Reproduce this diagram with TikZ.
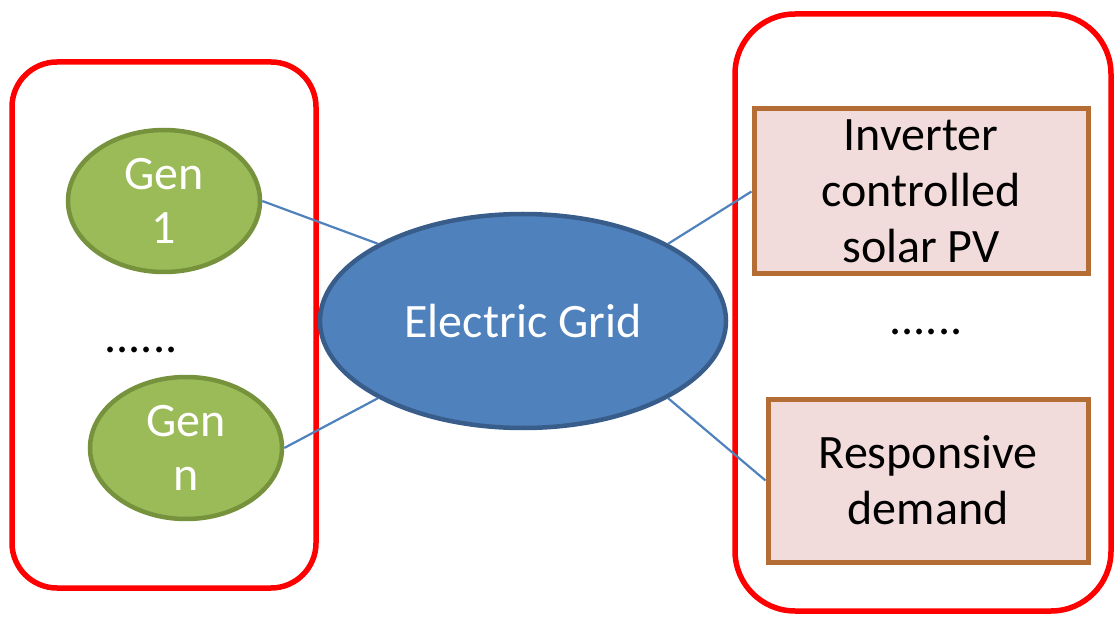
\documentclass[tikz,border=0pt]{standalone}
\usepackage{fontspec}
\setmainfont{Carlito}
\usetikzlibrary{shapes.geometric}
\definecolor{gridfill}{HTML}{4F81BD}
\definecolor{griddraw}{HTML}{385D8A}
\definecolor{genfill}{HTML}{9BBB59}
\definecolor{gendraw}{HTML}{76923C}
\definecolor{boxfill}{HTML}{F2DCDB}
\definecolor{boxdraw}{HTML}{B46D35}
\tikzset{
  group/.style={draw=red, line width=5.5pt, rounded corners=#1},
  gen/.style={ellipse, draw=gendraw, fill=genfill, line width=4.5pt, inner sep=0pt,
    minimum width=192pt, minimum height=142pt, text=white, align=center,
    font=\fontsize{48}{54}\selectfont},
  grid/.style={ellipse, draw=griddraw, fill=gridfill, line width=4.5pt, inner sep=0pt,
    minimum width=406pt, minimum height=214pt, text=white,
    font=\fontsize{48}{54}\selectfont},
  unit/.style={rectangle, draw=boxdraw, fill=boxfill, line width=5pt, inner sep=0pt,
    align=center, text=black, font=\fontsize{48}{56}\selectfont},
  dots/.style={font=\fontsize{48}{54}\selectfont},
  link/.style={draw=gridfill, line width=2.2pt}
}
\begin{document}
\begin{tikzpicture}[x=1pt,y=-1pt]
\useasboundingbox (0,0) rectangle (1116,617);
\draw[group=45pt] (12,62) rectangle (316,588);
\draw[group=60pt] (735,14) rectangle (1111,611);
\node[gen] (g1) at (164,201) {Gen\\1};
\node[gen] (gn) at (186,448) {Gen\\n};
\node[grid] (eg) at (523,321) {Electric Grid};
\node[unit, minimum width=334pt, minimum height=165pt] (pv) at (921,191.5) {Inverter\\controlled\\solar PV};
\node[unit, minimum width=320pt, minimum height=163pt] (rd) at (928,480.5) {Responsive\\demand};
\node[dots] (d1) at (141,350) {......};
\node[dots] (d2) at (926,332) {......};
\draw[link] (g1.east) -- (eg.north west);
\draw[link] (gn.east) -- (eg.south west);
\draw[link] (eg.north east) -- (pv.west);
\draw[link] (eg.south east) -- (rd.west);
\end{tikzpicture}
\end{document}
